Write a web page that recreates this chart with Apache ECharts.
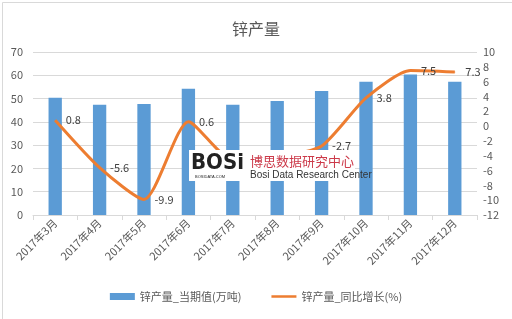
<!DOCTYPE html>
<html><head><meta charset="utf-8">
<script src="https://cdn.jsdelivr.net/npm/echarts@6/dist/echarts.min.js"></script>
<style>html,body{margin:0;padding:0;background:#fff}#c{width:512px;height:319px}</style>
</head><body><div id="c"></div>
<script>
const categories = ['2017年3月','2017年4月','2017年5月','2017年6月','2017年7月','2017年8月','2017年9月','2017年10月','2017年11月','2017年12月'];
const outputValues = [50.3, 47.3, 47.7, 54.2, 47.3, 49.0, 53.3, 57.2, 60.3, 57.2];
const growthValues = [0.8, -5.6, -9.9, 0.6, -4.6, -4.2, -2.7, 3.8, 7.5, 7.3];
const leftTicks = {min: 0, max: 70, interval: 10};
const rightTicks = {min: -12, max: 10, interval: 2};
const seriesNames = ['锌产量_当期值(万吨)', '锌产量_同比增长(%)'];

const chart = echarts.init(document.getElementById('c'), null, {renderer: 'canvas'});
const font = 'Microsoft YaHei, "Noto Sans CJK SC", sans-serif';
chart.setOption({
  animation: false,
  backgroundColor: '#fff',
  title: {text: '锌产量', left: 'center', top: 16, textStyle: {fontSize: 16, fontWeight: 'normal', color: '#595959', fontFamily: font}},
  grid: {left: 33, right: 35, top: 52, bottom: 104},
  legend: {
    bottom: 12, left: 'center', itemWidth: 25, itemHeight: 7, itemGap: 30,
    textStyle: {fontSize: 11, color: '#595959', fontFamily: font},
    data: [
      {name: seriesNames[0], icon: 'rect'},
      {name: seriesNames[1], icon: 'path://M0,2.2h25v2.6h-25z M0,0h0.01v7h-0.01z M24.99,0h0.01v7h-0.01z', itemStyle: {color: '#ed7d31'}}
    ]
  },
  xAxis: {
    type: 'category', data: categories, boundaryGap: true,
    axisLine: {lineStyle: {color: '#d9d9d9'}},
    axisTick: {show: true, alignWithLabel: false, length: 5, lineStyle: {color: '#d9d9d9'}},
    axisLabel: {rotate: 45, fontSize: 11, color: '#595959', fontFamily: font, margin: 6, interval: 0}
  },
  yAxis: [
    {type: 'value', min: leftTicks.min, max: leftTicks.max, interval: leftTicks.interval,
     axisLine: {show: false}, axisTick: {show: false},
     splitLine: {lineStyle: {color: '#d9d9d9'}},
     axisLabel: {fontSize: 11, color: '#595959', fontFamily: font, margin: 10}},
    {type: 'value', min: rightTicks.min, max: rightTicks.max, interval: rightTicks.interval,
     axisLine: {show: false}, axisTick: {show: false}, splitLine: {show: false},
     axisLabel: {fontSize: 11, color: '#595959', fontFamily: font, margin: 6}}
  ],
  series: [
    {name: seriesNames[0], type: 'bar', data: outputValues, barWidth: '30%', itemStyle: {color: '#5b9bd5'}, yAxisIndex: 0},
    {name: seriesNames[1], type: 'line', data: growthValues, yAxisIndex: 1, smooth: 0.22,
     symbol: 'circle', symbolSize: 1, showSymbol: true,
     lineStyle: {color: '#ed7d31', width: 3}, itemStyle: {color: '#ed7d31'},
     label: {show: true, position: 'right', distance: 10, fontSize: 11, color: '#404040', fontFamily: font}}
  ],
  graphic: [
    {type: 'rect', left: 0, top: 0, shape: {width: 511, height: 318}, style: {fill: 'none', stroke: '#d9d9d9', lineWidth: 1}, z: 100},
    {type: 'rect', left: 189, top: 150, shape: {width: 166, height: 31}, style: {fill: '#fff'}, z: 100},
    {type: 'text', left: 191, top: 152, style: {text: 'BOSi', font: 'bold 22px "DejaVu Sans Condensed", sans-serif', fill: '#222'}, z: 101},
    {type: 'text', left: 195, top: 175, style: {text: 'BOSIDATA.COM', font: '4px sans-serif', fill: '#222'}, z: 101},
    {type: 'text', left: 250, top: 155, style: {text: '博思数据研究中心', font: '13px "Noto Sans CJK SC", sans-serif', fill: '#cc3a4a'}, z: 101},
    {type: 'text', left: 250, top: 170, style: {text: 'Bosi Data Research Center', font: '10px "Liberation Sans Narrow", "Liberation Sans", sans-serif', fill: '#333'}, z: 101}
  ]
});
</script></body></html>
